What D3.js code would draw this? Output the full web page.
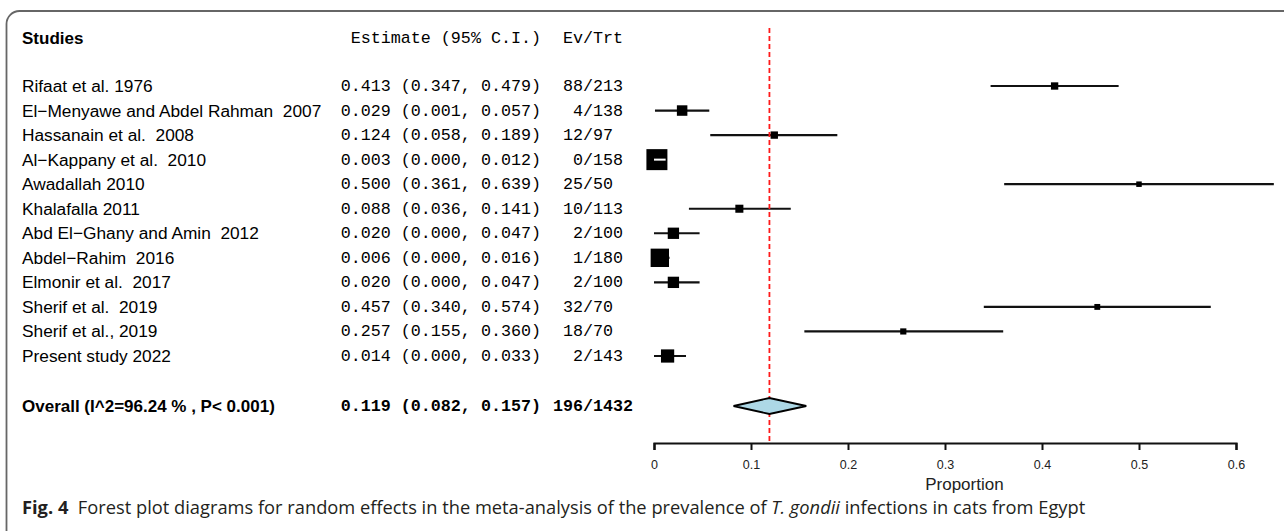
<!DOCTYPE html>
<html>
<head>
<meta charset="utf-8">
<script src="https://cdn.jsdelivr.net/npm/d3@7"></script>
<style>
  body { margin: 0; background: #fff; }
  svg text { white-space: pre; }
</style>
</head>
<body>
<div id="chart"></div>
<script>
var studies = ["Rifaat et al. 1976", "El\u2212Menyawe and Abdel Rahman  2007", "Hassanain et al.  2008",
    "Al\u2212Kappany et al.  2010", "Awadallah 2010", "Khalafalla 2011", "Abd El\u2212Ghany and Amin  2012",
    "Abdel\u2212Rahim  2016", "Elmonir et al.  2017", "Sherif et al.  2019", "Sherif et al., 2019", "Present study 2022"];
var estimate = [0.413, 0.029, 0.124, 0.003, 0.500, 0.088, 0.020, 0.006, 0.020, 0.457, 0.257, 0.014];
var lower    = [0.347, 0.001, 0.058, 0.000, 0.361, 0.036, 0.000, 0.000, 0.000, 0.340, 0.155, 0.000];
var upper    = [0.479, 0.057, 0.189, 0.012, 0.639, 0.141, 0.047, 0.016, 0.047, 0.574, 0.360, 0.033];
var events   = [88, 4, 12, 0, 25, 10, 2, 1, 2, 32, 18, 2];
var totals   = [213, 138, 97, 158, 50, 113, 100, 180, 100, 70, 70, 143];

var overallLabel = "Overall (I^2=96.24 % , P< 0.001)";
var overall = {est: 0.119, lower: 0.082, upper: 0.157, events: 196, total: 1432};

var xTicks = [0, 0.1, 0.2, 0.3, 0.4, 0.5, 0.6];

var W = 1284, H = 531;
var mono = "'Courier New', 'Liberation Mono', monospace";
var sans = "Arial, 'Liberation Sans', sans-serif";

var svg = d3.select("#chart")
    .append("svg")
        .attr("width", W)
        .attr("height", H);

// rounded frame, cut by the page edge on the right and bottom
svg.append("rect")
    .attr("x", 6.5).attr("y", 11)
    .attr("width", W + 40).attr("height", H + 40)
    .attr("rx", 13)
    .attr("fill", "none")
    .attr("stroke", "#666")
    .attr("stroke-width", 1.8);

var x = d3.scaleLinear()
    .domain([0, 0.6])
    .range([654, 1236]);

var y = d3.scalePoint()
    .domain(d3.range(studies.length))
    .range([86, 356]);

var yOverall = 406, yAxis = 443;

var prec = studies.map(function(d, i) { return Math.sqrt(1 / (upper[i] - lower[i])); });
var boxSize = d3.scaleLinear()
    .domain(d3.extent(prec))
    .range([5.5, 21]);

var f3 = d3.format(".3f");
var estCol = 541, slashX = 583, nameX = 22;

// headers
svg.append("text")
    .attr("x", nameX).attr("y", 44)
    .style("font-family", sans).style("font-weight", "bold").style("font-size", "17px")
    .text("Studies");
svg.append("text")
    .attr("x", estCol).attr("y", 43)
    .attr("text-anchor", "end")
    .style("font-family", mono).style("font-size", "16.7px")
    .text("Estimate (95% C.I.)");
svg.append("text")
    .attr("x", slashX - 20).attr("y", 43)
    .style("font-family", mono).style("font-size", "16.7px")
    .text("Ev/Trt");

var rows = svg.append("g").selectAll("g")
    .data(studies)
    .join("g")
        .attr("transform", function(d, i) { return "translate(0," + y(i) + ")"; });

rows.append("text")
    .attr("x", nameX).attr("y", 6)
    .style("font-family", sans).style("font-size", "17.3px")
    .text(function(d) { return d; });

rows.append("text")
    .attr("x", estCol).attr("y", 5)
    .attr("text-anchor", "end")
    .style("font-family", mono).style("font-size", "16.7px")
    .text(function(d, i) { return f3(estimate[i]) + " (" + f3(lower[i]) + ", " + f3(upper[i]) + ")"; });

rows.append("text")
    .attr("x", slashX).attr("y", 5)
    .attr("text-anchor", "end")
    .style("font-family", mono).style("font-size", "16.7px")
    .text(function(d, i) { return events[i]; });

rows.append("text")
    .attr("x", slashX).attr("y", 5)
    .style("font-family", mono).style("font-size", "16.7px")
    .text(function(d, i) { return "/" + totals[i]; });

// overall row text
svg.append("text")
    .attr("x", nameX).attr("y", yOverall + 6)
    .style("font-family", sans).style("font-weight", "bold").style("font-size", "17px")
    .text(overallLabel);
svg.append("text")
    .attr("x", estCol).attr("y", yOverall + 5)
    .attr("text-anchor", "end")
    .style("font-family", mono).style("font-weight", "bold").style("font-size", "16.7px")
    .text(f3(overall.est) + " (" + f3(overall.lower) + ", " + f3(overall.upper) + ")");
svg.append("text")
    .attr("x", slashX).attr("y", yOverall + 5)
    .attr("text-anchor", "end")
    .style("font-family", mono).style("font-weight", "bold").style("font-size", "16.7px")
    .text(overall.events);
svg.append("text")
    .attr("x", slashX).attr("y", yOverall + 5)
    .style("font-family", mono).style("font-weight", "bold").style("font-size", "16.7px")
    .text("/" + overall.total);

// reference line at the pooled estimate
svg.append("line")
    .attr("x1", x(overall.est)).attr("x2", x(overall.est))
    .attr("y1", 28).attr("y2", yAxis)
    .attr("stroke", "#ff1a1a")
    .attr("stroke-width", 1.8)
    .attr("stroke-dasharray", "5,3");

// confidence intervals
rows.append("line")
    .attr("x1", function(d, i) { return x(lower[i]); })
    .attr("x2", function(d, i) { return x(upper[i]); })
    .attr("stroke", "#111")
    .attr("stroke-width", 2.2);

rows.append("rect")
    .attr("x", function(d, i) { return x(estimate[i]) - boxSize(prec[i]) / 2; })
    .attr("y", function(d, i) { return -boxSize(prec[i]) / 2; })
    .attr("width", function(d, i) { return boxSize(prec[i]); })
    .attr("height", function(d, i) { return boxSize(prec[i]); })
    .attr("fill", "#000");

// CI lines that sit inside their box are drawn white
rows.filter(function(d, i) {
        var h = boxSize(prec[i]) / 2;
        return x(lower[i]) >= x(estimate[i]) - h && x(upper[i]) <= x(estimate[i]) + h;
    })
    .append("line")
        .attr("x1", function(d) { var i = studies.indexOf(d); return x(lower[i]); })
        .attr("x2", function(d) { var i = studies.indexOf(d); return x(upper[i]); })
        .attr("stroke", "#fff")
        .attr("stroke-width", 2);

// pooled diamond
svg.append("path")
    .attr("d", "M" + x(overall.lower) + "," + yOverall +
               "L" + x(overall.est) + "," + (yOverall - 8) +
               "L" + x(overall.upper) + "," + yOverall +
               "L" + x(overall.est) + "," + (yOverall + 8) + "Z")
    .attr("fill", "#add8e6")
    .attr("stroke", "#000")
    .attr("stroke-width", 1.8);

// x axis
var axis = svg.append("g")
    .attr("transform", "translate(0," + yAxis + ")")
    .call(d3.axisBottom(x).tickValues(xTicks).tickSize(7).tickSizeOuter(7).tickPadding(10)
        .tickFormat(function(d) { return d === 0 ? "0" : d3.format(".1f")(d); }));
axis.attr("font-size", null).attr("font-family", null);
axis.select(".domain").attr("stroke-width", 2.2).attr("stroke", "#111");
axis.selectAll(".tick line").attr("stroke-width", 2).attr("stroke", "#111");
axis.selectAll(".tick text")
    .style("font-family", sans).style("font-size", "12.5px").attr("fill", "#222");

svg.append("text")
    .attr("x", x(0.32)).attr("y", 490)
    .attr("text-anchor", "middle")
    .style("font-family", sans).style("font-size", "17px").attr("fill", "#222")
    .text("Proportion");

// figure caption
var cap = svg.append("text")
    .attr("x", nameX).attr("y", 514)
    .style("font-family", "'Open Sans', 'Noto Sans', sans-serif").style("font-size", "18.3px")
    .attr("fill", "#231f20");
cap.append("tspan").style("font-weight", "bold").text("Fig. 4");
cap.append("tspan").text("  Forest plot diagrams for random effects in the meta-analysis of the prevalence of ");
cap.append("tspan").style("font-style", "italic").text("T. gondii");
cap.append("tspan").text(" infections in cats from Egypt");
</script>
</body>
</html>
